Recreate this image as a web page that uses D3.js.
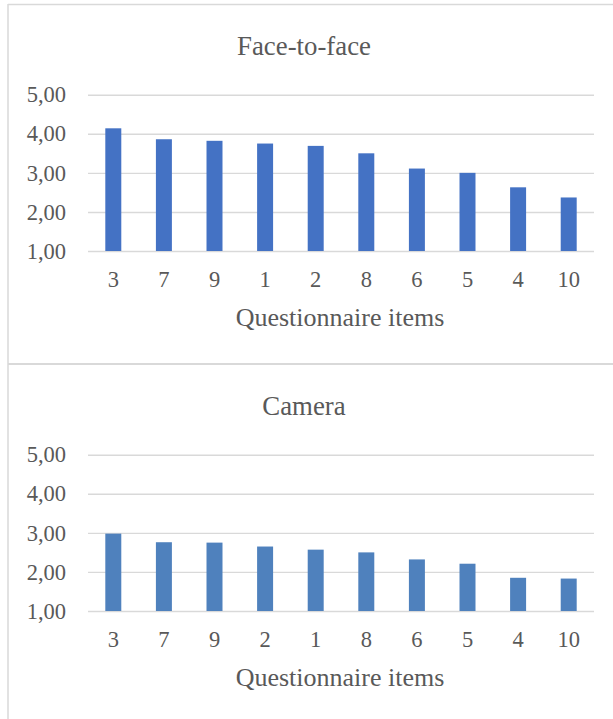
<!DOCTYPE html>
<html>
<head>
<meta charset="utf-8">
<script src="https://cdn.jsdelivr.net/npm/d3@7"></script>
<style>
  html, body { margin: 0; padding: 0; background: #fff; }
  svg { display: block; }
</style>
</head>
<body>
<svg id="chart" width="613" height="719"></svg>
<script>
// Mean ratings per questionnaire item, sorted high to low in each condition
const faceItems = ["3", "7", "9", "1", "2", "8", "6", "5", "4", "10"];
const faceValues = [4.14, 3.86, 3.82, 3.75, 3.69, 3.50, 3.11, 3.00, 2.63, 2.37];

const cameraItems = ["3", "7", "9", "2", "1", "8", "6", "5", "4", "10"];
const cameraValues = [2.98, 2.76, 2.75, 2.65, 2.57, 2.50, 2.32, 2.21, 1.85, 1.83];

const yTicks = [1, 2, 3, 4, 5];
const xAxisTitle = "Questionnaire items";

const SERIF = "'Liberation Serif', 'Times New Roman', Times, serif";
const TEXT_COLOR = "#595959";

const svg = d3.select("#chart");
const fmt = v => v.toFixed(2).replace(".", ",");

// Panel frames: left edge, top edge and the divider between the two charts
const borderColor = "#d9d9d9";
svg.append("line").attr("x1", 8).attr("x2", 8).attr("y1", 4).attr("y2", 719)
  .attr("stroke", borderColor).attr("stroke-width", 1.5);
svg.append("line").attr("x1", 8).attr("x2", 613).attr("y1", 4.5).attr("y2", 4.5)
  .attr("stroke", borderColor).attr("stroke-width", 1.5);
svg.append("line").attr("x1", 8).attr("x2", 613).attr("y1", 364).attr("y2", 364)
  .attr("stroke", borderColor).attr("stroke-width", 2);

function styleText(sel, size) {
  sel.style("font-family", SERIF).style("font-size", size + "px").style("fill", TEXT_COLOR);
}

function drawPanel(offsetY, title, items, values, color) {
  const g = svg.append("g").attr("transform", `translate(0,${offsetY})`);
  const left = 88, right = 594, top = 94.7, bottom = 251;

  const x = d3.scaleBand().domain(items).range([left, right])
    .paddingInner(0.684).paddingOuter(0.342);
  const y = d3.scaleLinear().domain([1, 5]).range([bottom, top]);

  g.append("text").attr("x", 304).attr("y", 55).attr("text-anchor", "middle")
    .text(title).call(styleText, 26.8);

  // Horizontal gridlines and value labels
  const yAxis = d3.axisLeft(y).tickValues(yTicks).tickFormat(fmt)
    .tickSize(-(right - left)).tickPadding(22);
  const ya = g.append("g").attr("transform", `translate(${left},0)`).call(yAxis);
  ya.select(".domain").remove();
  ya.selectAll(".tick line").attr("stroke", "#d9d9d9").attr("stroke-width", 1.4);
  ya.selectAll(".tick text").call(styleText, 22.5);

  // Bars
  g.selectAll("rect.bar").data(items).enter().append("rect")
    .attr("class", "bar")
    .attr("x", d => x(d))
    .attr("width", x.bandwidth())
    .attr("y", (d, i) => y(values[i]))
    .attr("height", (d, i) => y(1) - y(values[i]))
    .attr("fill", color);

  // Category labels
  const xAxis = d3.axisBottom(x).tickSize(0).tickPadding(20);
  const xa = g.append("g").attr("transform", `translate(0,${bottom})`).call(xAxis);
  xa.select(".domain").remove();
  xa.selectAll(".tick text").call(styleText, 22.5);

  g.append("text").attr("x", 340).attr("y", 326).attr("text-anchor", "middle")
    .text(xAxisTitle).call(styleText, 26);
}

drawPanel(0, "Face-to-face", faceItems, faceValues, "#4472c4");
drawPanel(360, "Camera", cameraItems, cameraValues, "#4f81bd");
</script>
</body>
</html>
